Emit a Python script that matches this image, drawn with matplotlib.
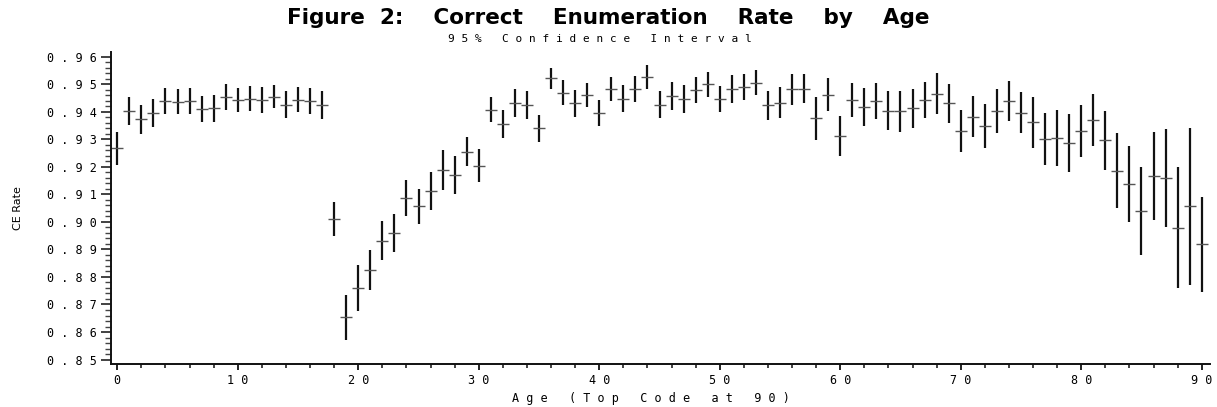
import numpy as np
import matplotlib
matplotlib.use("Agg")
import matplotlib.pyplot as plt
from matplotlib.ticker import FixedLocator, MultipleLocator

# values: CE rate and half width of the 95% interval, ages 0..90
ages = np.arange(0, 91)

rate = [0.9267, 0.9402, 0.9373, 0.9394, 0.9438, 0.9436, 0.9438, 0.9409, 0.9412, 0.9454,
        0.9442, 0.9447, 0.9442, 0.9455, 0.9426, 0.9444, 0.9439, 0.9424, 0.9010, 0.8653,
        0.8760, 0.8826, 0.8932, 0.8959, 0.9086, 0.9056, 0.9112, 0.9188, 0.9171, 0.9255,
        0.9203, 0.9408, 0.9354, 0.9433, 0.9424, 0.9340, 0.9521, 0.9469, 0.9430, 0.9460,
        0.9396, 0.9482, 0.9448, 0.9484, 0.9526, 0.9426, 0.9457, 0.9446, 0.9478, 0.9499,
        0.9446, 0.9484, 0.9490, 0.9505, 0.9424, 0.9432, 0.9481, 0.9484, 0.9376, 0.9462,
        0.9312, 0.9442, 0.9416, 0.9439, 0.9403, 0.9402, 0.9412, 0.9442, 0.9466, 0.9430,
        0.9330, 0.9382, 0.9348, 0.9402, 0.9439, 0.9397, 0.9361, 0.9301, 0.9305, 0.9285,
        0.9330, 0.9370, 0.9297, 0.9186, 0.9137, 0.9040, 0.9167, 0.9158, 0.8979, 0.9056,
        0.8919]

half_ci = [0.0059, 0.0050, 0.0053, 0.0051, 0.0048, 0.0046, 0.0048, 0.0048, 0.0048, 0.0046,
           0.0044, 0.0045, 0.0046, 0.0042, 0.0048, 0.0045, 0.0047, 0.0050, 0.0062, 0.0082,
           0.0085, 0.0072, 0.0070, 0.0069, 0.0065, 0.0065, 0.0069, 0.0072, 0.0069, 0.0053,
           0.0060, 0.0047, 0.0051, 0.0051, 0.0051, 0.0049, 0.0039, 0.0046, 0.0050, 0.0043,
           0.0048, 0.0044, 0.0048, 0.0047, 0.0042, 0.0050, 0.0051, 0.0052, 0.0048, 0.0045,
           0.0048, 0.0051, 0.0046, 0.0046, 0.0053, 0.0056, 0.0056, 0.0053, 0.0078, 0.0059,
           0.0073, 0.0062, 0.0069, 0.0067, 0.0071, 0.0074, 0.0070, 0.0066, 0.0074, 0.0072,
           0.0077, 0.0074, 0.0079, 0.0080, 0.0072, 0.0075, 0.0092, 0.0095, 0.0103, 0.0105,
           0.0093, 0.0095, 0.0107, 0.0135, 0.0138, 0.0160, 0.0161, 0.0178, 0.0220, 0.0284,
           0.0172]

y_ticks = [0.85, 0.86, 0.87, 0.88, 0.89, 0.90, 0.91, 0.92, 0.93, 0.94, 0.95, 0.96]
y_tick_labels = ["0.85", "0.86", "0.87", "0.88", "0.89", "0.90",
                 "0.91", "0.92", "0.93", "0.94", "0.95", "0.96"]
x_ticks = [0, 10, 20, 30, 40, 50, 60, 70, 80, 90]
x_tick_labels = ["0", "10", "20", "30", "40", "50", "60", "70", "80", "90"]


def spread(text):
    # old SAS output puts a blank between every letter, wider between words
    return "   ".join(" ".join(word) for word in text.split(" "))


mono = "DejaVu Sans Mono"

fig = plt.figure(figsize=(12.17, 4.07), dpi=100)
ax = fig.add_axes([0.0912, 0.1057, 0.9030, 0.7673])

ax.errorbar(ages, rate, yerr=half_ci, fmt="_", color="#555555", markersize=8,
            markeredgewidth=1.0, ecolor="#111111", elinewidth=1.6, capsize=0)

ax.set_xlim(-0.52, 90.68)
ax.set_ylim(0.8484, 0.9618)

ax.yaxis.set_major_locator(FixedLocator(y_ticks))
ax.set_yticklabels([spread(t) for t in y_tick_labels], family=mono, fontsize=8.5)
ax.yaxis.set_minor_locator(MultipleLocator(0.002))
ax.xaxis.set_major_locator(FixedLocator(x_ticks))
ax.set_xticklabels([spread(t) for t in x_tick_labels], family=mono, fontsize=8.5)
ax.xaxis.set_minor_locator(MultipleLocator(2))

ax.tick_params(axis="y", which="major", length=7, width=1.2, pad=3, color="#222222")
ax.tick_params(axis="y", which="minor", length=4.5, width=1.0, color="#444444")
ax.tick_params(axis="x", which="major", length=4.5, width=1.4, pad=3, color="#222222")
ax.tick_params(axis="x", which="minor", length=3, width=1.2, color="#222222")

for side in ["top", "right"]:
    ax.spines[side].set_visible(False)
for side in ["left", "bottom"]:
    ax.spines[side].set_linewidth(1.4)
    ax.spines[side].set_color("#111111")

ax.set_xlabel(spread("Age (Top Code at 90)"), family=mono, fontsize=8.5)
ax.xaxis.set_label_coords(0.491, -0.112)
ax.xaxis.label.set_va("center")
ax.set_ylabel("CE Rate", fontsize=8)
ax.yaxis.set_label_coords(-0.080, 0.5)

fig.text(0.5, 0.955, "Figure  2:    Correct    Enumeration    Rate    by    Age",
         ha="center", va="center", fontsize=15.5, fontweight="bold", family="DejaVu Sans")
fig.text(0.493, 0.905, spread("95% Confidence Interval"), ha="center", va="center",
         family=mono, fontsize=8)

fig.savefig("out.png", dpi=100)
